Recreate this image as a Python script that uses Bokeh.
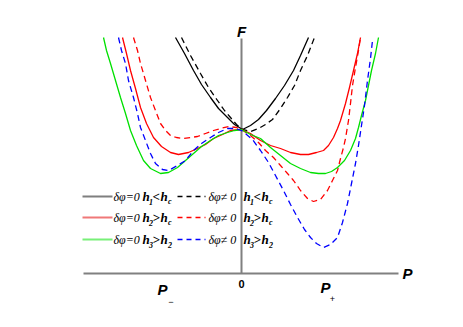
from bokeh.plotting import figure
from bokeh.models import Range1d
from bokeh.core.properties import value
from bokeh.embed import file_html
from bokeh.resources import INLINE

# ---------------- data (P, F) ----------------
black_solid_P = [-0.66, -0.57, -0.48, -0.40, -0.31, -0.23, -0.14, -0.07, 0.01, 0.09, 0.17, 0.25, 0.34, 0.43, 0.52, 0.59, 0.67]
black_solid_F = [2.36, 2.20, 2.03, 1.89, 1.76, 1.65, 1.56, 1.49, 1.44, 1.48, 1.54, 1.63, 1.75, 1.88, 2.03, 2.18, 2.36]

black_dash_P = [-0.60, -0.51, -0.41, -0.33, -0.24, -0.17, -0.11, -0.05, 0.01, 0.09, 0.17, 0.24, 0.31, 0.39, 0.46, 0.53, 0.59, 0.66, 0.73]
black_dash_F = [2.36, 2.18, 2.00, 1.86, 1.73, 1.63, 1.56, 1.49, 1.44, 1.42, 1.45, 1.49, 1.54, 1.65, 1.76, 1.88, 2.03, 2.18, 2.36]

red_solid_P = [-1.19, -1.15, -1.11, -1.06, -1.01, -0.95, -0.88, -0.80, -0.71, -0.63, -0.53, -0.44, -0.36, -0.28, -0.19, -0.11, 0.00,
               0.09, 0.19, 0.29, 0.39, 0.49, 0.59, 0.67, 0.75, 0.82, 0.87, 0.92, 0.96, 0.99, 1.04, 1.08, 1.12, 1.16, 1.19]
red_solid_F = [2.36, 2.20, 2.03, 1.85, 1.66, 1.50, 1.36, 1.27, 1.21, 1.19, 1.21, 1.25, 1.29, 1.35, 1.39, 1.43, 1.44,
               1.40, 1.33, 1.28, 1.25, 1.21, 1.19, 1.19, 1.21, 1.23, 1.28, 1.36, 1.45, 1.53, 1.70, 1.86, 2.03, 2.20, 2.36]

red_dash_P = [-1.08, -1.04, -1.01, -0.96, -0.91, -0.86, -0.81, -0.76, -0.71, -0.65, -0.59, -0.51, -0.44, -0.36, -0.28, -0.21, -0.13, -0.05, 0.00,
              0.09, 0.17, 0.24, 0.32, 0.39, 0.46, 0.52, 0.59, 0.66, 0.72, 0.79, 0.86, 0.91, 0.96, 0.99, 1.02, 1.04, 1.07, 1.09, 1.11, 1.14, 1.17, 1.19]
red_dash_F = [2.36, 2.23, 2.10, 1.93, 1.76, 1.63, 1.50, 1.43, 1.38, 1.36, 1.35, 1.36, 1.37, 1.40, 1.43, 1.45, 1.47, 1.46, 1.44,
              1.38, 1.31, 1.23, 1.16, 1.08, 1.00, 0.93, 0.83, 0.75, 0.72, 0.74, 0.83, 0.93, 1.03, 1.15, 1.26, 1.35, 1.53, 1.70, 1.88, 2.06, 2.23, 2.36]

green_P = [-1.38, -1.35, -1.31, -1.26, -1.21, -1.16, -1.11, -1.05, -0.98, -0.91, -0.81, -0.73, -0.64, -0.56, -0.48, -0.40, -0.31, -0.23, -0.14, -0.07, 0.00,
           0.09, 0.19, 0.29, 0.39, 0.49, 0.59, 0.69, 0.77, 0.84, 0.90, 0.96, 1.03, 1.09, 1.14, 1.17, 1.20, 1.24, 1.27, 1.30, 1.34, 1.37]
green_F = [2.36, 2.23, 2.10, 1.93, 1.76, 1.60, 1.43, 1.28, 1.13, 1.05, 1.00, 1.01, 1.06, 1.13, 1.20, 1.27, 1.33, 1.38, 1.41, 1.43, 1.44,
           1.39, 1.35, 1.26, 1.18, 1.10, 1.05, 1.01, 1.00, 1.00, 1.02, 1.06, 1.13, 1.23, 1.35, 1.46, 1.58, 1.73, 1.88, 2.03, 2.20, 2.36]

blue_P = [-1.23, -1.20, -1.16, -1.13, -1.08, -1.04, -1.01, -0.96, -0.91, -0.86, -0.79, -0.73, -0.64, -0.56, -0.48, -0.40, -0.31, -0.23, -0.14, -0.06, 0.00,
          0.05, 0.11, 0.19, 0.27, 0.34, 0.42, 0.49, 0.56, 0.63, 0.69, 0.75, 0.82, 0.89, 0.96, 1.01, 1.06, 1.10, 1.14, 1.17, 1.20, 1.23, 1.26, 1.29, 1.31]
blue_F = [2.36, 2.23, 2.10, 1.93, 1.76, 1.60, 1.46, 1.33, 1.20, 1.10, 1.04, 1.03, 1.08, 1.13, 1.23, 1.30, 1.36, 1.41, 1.45, 1.45, 1.43,
          1.39, 1.34, 1.23, 1.11, 0.98, 0.83, 0.69, 0.56, 0.44, 0.36, 0.30, 0.26, 0.29, 0.36, 0.51, 0.70, 0.90, 1.10, 1.28, 1.48, 1.68, 1.93, 2.15, 2.33]

# legend rows
legend_solid_colors = ["#7f7f7f", "#f07878", "#78f078"]
legend_dash_colors = ["black", "#ff0000", "#0000ff"]
legend_rel = ["<", ">", ">"]
legend_sub1 = ["1", "2", "3"]
legend_sub2 = ["c", "c", "2"]

RED = "#ff0000"
GREEN = "#00e000"
BLUE = "#0000ff"
AXIS = "#808080"
DASH = "6 4"

p = figure(width=447, height=311,
           x_range=Range1d(-2.41, 2.06), y_range=Range1d(-0.38, 2.73),
           x_axis_location=None, y_axis_location=None,
           output_backend="svg", toolbar_location=None,
           min_border=0, min_border_left=0, min_border_right=0,
           min_border_top=0, min_border_bottom=0)
p.grid.visible = False
p.outline_line_color = None
p.background_fill_color = "white"
p.border_fill_color = "white"

# axes
p.segment(x0=[0.0, -1.58], y0=[0.0, 0.0], x1=[0.0, 1.57], y1=[2.35, 0.0],
          line_color=AXIS, line_width=2)

lw = 1.3
p.line(black_solid_P, black_solid_F, line_color="black", line_width=lw)
p.line(black_dash_P, black_dash_F, line_color="black", line_width=lw, line_dash=DASH)
p.line(red_solid_P, red_solid_F, line_color=RED, line_width=lw)
p.line(red_dash_P, red_dash_F, line_color=RED, line_width=lw, line_dash=DASH)
p.line(green_P, green_F, line_color=GREEN, line_width=lw)
p.line(blue_P, blue_F, line_color=BLUE, line_width=lw, line_dash=DASH)

# axis labels
sans_bi = dict(text_font=value("Liberation Sans"), text_font_style="bold italic", text_color="black")
p.text(x=[0.0], y=[2.42], text=["F"], text_align="center", text_baseline="middle",
       text_font_size="15px", **sans_bi)
p.text(x=[1.61], y=[0.0], text=["P"], text_align="left", text_baseline="middle",
       text_font_size="15px", **sans_bi)
p.text(x=[-0.84, 0.79], y=[-0.16, -0.14], text=["P", "P"], text_align="left", text_baseline="middle",
       text_font_size="15px", **sans_bi)
p.text(x=[-0.705, 0.91], y=[-0.28, -0.25], text=["\u2212", "+"], text_align="center", text_baseline="middle",
       text_font_size="9px", text_font=value("Liberation Sans"), text_color="black")
p.text(x=[0.0], y=[-0.10], text=["0"], text_align="center", text_baseline="middle",
       text_font_size="11px", text_font=value("Liberation Sans"), text_font_style="bold", text_color="black")

# legend
row_F = [0.77, 0.56, 0.34]
for i, yF in enumerate(row_F):
    p.line([-1.59, -1.29], [yF, yF], line_color=legend_solid_colors[i], line_width=2)
    p.line([-0.64, -0.36], [yF, yF], line_color=legend_dash_colors[i], line_width=1.3, line_dash="5 4")
    p.text(x=[-1.28, -0.33], y=[yF, yF], text=["\u03b4\u03c6=0", "\u03b4\u03c6\u2260 0"],
           text_align="left", text_baseline="middle", text_font_size="12px",
           text_font=value("Liberation Serif"), text_font_style="italic", text_color="black")
    for x0 in (-0.99, 0.02):
        p.text(x=[x0, x0 + 0.10, x0 + 0.18], y=[yF, yF, yF],
               text=["h", legend_rel[i], "h"],
               text_align="left", text_baseline="middle", text_font_size="13px",
               text_font=value("Liberation Serif"), text_font_style="bold italic", text_color="black")
        p.text(x=[x0 + 0.065, x0 + 0.255], y=[yF - 0.05, yF - 0.05],
               text=[legend_sub1[i], legend_sub2[i]],
               text_align="left", text_baseline="middle", text_font_size="8px",
               text_font=value("Liberation Serif"), text_font_style="bold italic", text_color="black")

open("out.html", "w").write(file_html(p, INLINE))
